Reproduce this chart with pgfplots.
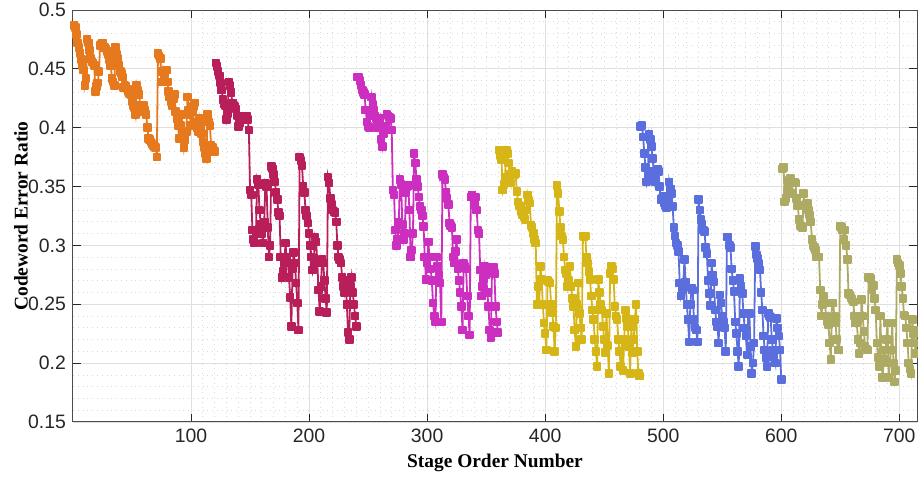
\documentclass[border=0pt]{standalone}
\usepackage{fontspec}
\setmainfont{Liberation Sans}
\newfontfamily\lblfont{Liberation Serif}
\usepackage{pgfplots}
\pgfplotsset{compat=1.18}
\definecolor{cOr}{HTML}{E6781E}
\definecolor{cCr}{HTML}{B81E5A}
\definecolor{cMa}{HTML}{CC2EC0}
\definecolor{cYe}{HTML}{D6B616}
\definecolor{cBl}{HTML}{5A6FDD}
\definecolor{cOl}{HTML}{ADAA64}
\begin{document}
\begin{tikzpicture}
\begin{axis}[
    scale only axis,
    width=422pt, height=206pt,
    xmin=0, xmax=715, ymin=0.15, ymax=0.5,
    xtick={100,200,300,400,500,600,700},
    ytick={0.15,0.2,0.25,0.3,0.35,0.4,0.45,0.5},
    minor x tick num=9, minor y tick num=4,
    grid=both,
    major grid style={gray!25, line width=0.45pt},
    minor grid style={gray!30, dotted, line width=0.4pt},
    tick align=inside, major tick length=4.2pt, minor tick length=0pt,
    axis line style={black!70, line width=0.5pt},
    tick style={black!85, line width=0.5pt},
    ticklabel style={font=\fontsize{9.7}{11}\selectfont, text=black!85},
    /pgf/number format/assume math mode=true,
    xlabel={Stage Order Number}, ylabel={Codeword Error Ratio},
    label style={font=\lblfont\bfseries\fontsize{9.7}{11}\selectfont},
    xlabel style={at={(axis description cs:0.5,-0.0995)}, anchor=center},
    ylabel style={at={(axis description cs:-0.0616,0.5)}, anchor=center},
    every axis plot/.append style={line width=0.9pt, mark=square*, mark size=1.7pt,
        mark options={line join=round}},
]
% segment 1
\addplot[cOr] coordinates {(1,0.487)(2,0.485)(3,0.479)(4,0.472)(5,0.468)(6,0.463)(7,0.458)(8,0.453)(9,0.449)(10,0.436)(11,0.442)(12,0.475)(13,0.472)(14,0.466)(15,0.459)(16,0.456)(17,0.455)(18,0.453)(19,0.431)(20,0.435)(21,0.438)(22,0.448)(23,0.470)(24,0.471)(25,0.472)(26,0.468)(27,0.468)(28,0.467)(29,0.465)(30,0.462)(31,0.458)(32,0.453)(33,0.442)(34,0.439)(35,0.436)(36,0.468)(37,0.462)(38,0.459)(39,0.453)(40,0.448)(41,0.446)(42,0.443)(43,0.434)(44,0.436)(45,0.435)(46,0.433)(47,0.431)(48,0.429)(49,0.428)(50,0.422)(51,0.419)(52,0.417)(53,0.411)(54,0.436)(55,0.432)(56,0.428)(57,0.419)(58,0.416)(59,0.414)(60,0.419)(61,0.415)(62,0.411)(63,0.400)(64,0.391)(65,0.390)(66,0.388)(67,0.386)(68,0.385)(69,0.384)(70,0.383)(71,0.375)(72,0.463)(73,0.461)(74,0.459)(75,0.439)(76,0.448)(77,0.442)(78,0.446)(79,0.449)(80,0.439)(81,0.431)(82,0.426)(83,0.422)(84,0.419)(85,0.425)(86,0.428)(87,0.414)(88,0.408)(89,0.402)(90,0.391)(91,0.402)(92,0.411)(93,0.395)(94,0.383)(95,0.390)(96,0.397)(97,0.426)(98,0.415)(99,0.411)(100,0.402)(101,0.414)(102,0.418)(103,0.421)(104,0.405)(105,0.400)(106,0.397)(107,0.408)(108,0.402)(109,0.395)(110,0.388)(111,0.383)(112,0.378)(113,0.374)(114,0.411)(115,0.405)(116,0.402)(117,0.385)(118,0.383)(119,0.381)(120,0.380)};
% segment 2
\addplot[cCr] coordinates {(121,0.455)(122,0.452)(123,0.448)(124,0.444)(125,0.438)(126,0.432)(127,0.424)(128,0.420)(129,0.419)(130,0.407)(131,0.412)(132,0.439)(133,0.436)(134,0.430)(135,0.421)(136,0.419)(137,0.418)(138,0.416)(139,0.410)(140,0.401)(141,0.404)(142,0.409)(143,0.408)(144,0.410)(145,0.410)(146,0.409)(147,0.410)(148,0.407)(149,0.398)(150,0.347)(151,0.343)(152,0.313)(153,0.305)(154,0.302)(155,0.310)(156,0.356)(157,0.352)(158,0.330)(159,0.318)(160,0.310)(161,0.302)(162,0.320)(163,0.353)(164,0.350)(165,0.315)(166,0.290)(167,0.300)(168,0.367)(169,0.365)(170,0.360)(171,0.354)(172,0.345)(173,0.339)(174,0.328)(175,0.325)(176,0.290)(177,0.273)(178,0.278)(179,0.285)(180,0.302)(181,0.290)(182,0.285)(183,0.273)(184,0.256)(185,0.231)(186,0.280)(187,0.294)(188,0.285)(189,0.268)(190,0.251)(191,0.228)(192,0.375)(193,0.372)(194,0.368)(195,0.350)(196,0.345)(197,0.330)(198,0.325)(199,0.319)(200,0.310)(201,0.300)(202,0.290)(203,0.279)(204,0.285)(205,0.307)(206,0.303)(207,0.285)(208,0.262)(209,0.244)(210,0.265)(211,0.288)(212,0.285)(213,0.270)(214,0.255)(215,0.243)(216,0.358)(217,0.353)(218,0.340)(219,0.335)(220,0.330)(221,0.329)(222,0.328)(223,0.320)(224,0.300)(225,0.290)(226,0.288)(227,0.285)(228,0.273)(229,0.265)(230,0.260)(231,0.270)(232,0.250)(233,0.226)(234,0.220)(235,0.265)(236,0.273)(237,0.260)(238,0.250)(239,0.240)(240,0.231)};
% segment 3
\addplot[cMa] coordinates {(241,0.443)(242,0.443)(243,0.440)(244,0.436)(245,0.432)(246,0.430)(247,0.428)(248,0.415)(249,0.405)(250,0.401)(251,0.400)(252,0.410)(253,0.426)(254,0.420)(255,0.415)(256,0.410)(257,0.408)(258,0.400)(259,0.404)(260,0.408)(261,0.390)(262,0.384)(263,0.395)(264,0.400)(265,0.401)(266,0.411)(267,0.410)(268,0.409)(269,0.408)(270,0.398)(271,0.347)(272,0.343)(273,0.313)(274,0.300)(275,0.305)(276,0.320)(277,0.356)(278,0.352)(279,0.318)(280,0.305)(281,0.310)(282,0.345)(283,0.350)(284,0.351)(285,0.330)(286,0.290)(287,0.296)(288,0.310)(289,0.378)(290,0.370)(291,0.356)(292,0.350)(293,0.341)(294,0.333)(295,0.330)(296,0.325)(297,0.316)(298,0.290)(299,0.271)(300,0.285)(301,0.303)(302,0.290)(303,0.280)(304,0.270)(305,0.251)(306,0.240)(307,0.235)(308,0.290)(309,0.282)(310,0.275)(311,0.268)(312,0.235)(313,0.360)(314,0.358)(315,0.356)(316,0.345)(317,0.340)(318,0.335)(319,0.319)(320,0.317)(321,0.315)(322,0.290)(323,0.285)(324,0.295)(325,0.305)(326,0.280)(327,0.270)(328,0.260)(329,0.248)(330,0.228)(331,0.285)(332,0.282)(333,0.280)(334,0.257)(335,0.240)(336,0.224)(337,0.341)(338,0.343)(339,0.341)(340,0.335)(341,0.341)(342,0.330)(343,0.313)(344,0.310)(345,0.279)(346,0.257)(347,0.265)(348,0.272)(349,0.282)(350,0.275)(351,0.260)(352,0.248)(353,0.228)(354,0.222)(355,0.281)(356,0.281)(357,0.276)(358,0.248)(359,0.235)(360,0.226)};
% segment 4
\addplot[cYe] coordinates {(361,0.381)(362,0.376)(363,0.373)(364,0.347)(365,0.352)(366,0.358)(367,0.381)(368,0.378)(369,0.370)(370,0.360)(371,0.353)(372,0.363)(373,0.361)(374,0.360)(375,0.361)(376,0.346)(377,0.337)(378,0.334)(379,0.333)(380,0.329)(381,0.326)(382,0.324)(383,0.322)(384,0.330)(385,0.343)(386,0.338)(387,0.336)(388,0.317)(389,0.315)(390,0.310)(391,0.305)(392,0.302)(393,0.250)(394,0.265)(395,0.250)(396,0.282)(397,0.271)(398,0.250)(399,0.234)(400,0.225)(401,0.211)(402,0.270)(403,0.269)(404,0.268)(405,0.250)(406,0.243)(407,0.231)(408,0.210)(409,0.230)(410,0.351)(411,0.344)(412,0.329)(413,0.315)(414,0.308)(415,0.305)(416,0.290)(417,0.279)(418,0.276)(419,0.265)(420,0.270)(421,0.282)(422,0.265)(423,0.255)(424,0.248)(425,0.228)(426,0.214)(427,0.250)(428,0.268)(429,0.242)(430,0.230)(431,0.220)(432,0.308)(433,0.307)(434,0.308)(435,0.290)(436,0.285)(437,0.278)(438,0.271)(439,0.257)(440,0.245)(441,0.237)(442,0.220)(443,0.210)(444,0.197)(445,0.271)(446,0.260)(447,0.250)(448,0.245)(449,0.231)(450,0.220)(451,0.209)(452,0.242)(453,0.215)(454,0.191)(455,0.276)(456,0.282)(457,0.280)(458,0.271)(459,0.248)(460,0.240)(461,0.237)(462,0.220)(463,0.210)(464,0.197)(465,0.220)(466,0.194)(467,0.220)(468,0.245)(469,0.238)(470,0.231)(471,0.214)(472,0.191)(473,0.231)(474,0.209)(475,0.220)(476,0.237)(477,0.250)(478,0.210)(479,0.191)(480,0.189)};
% segment 5
\addplot[cBl] coordinates {(481,0.401)(482,0.402)(483,0.392)(484,0.378)(485,0.366)(486,0.354)(487,0.360)(488,0.394)(489,0.390)(490,0.384)(491,0.374)(492,0.363)(493,0.354)(494,0.360)(495,0.365)(496,0.363)(497,0.350)(498,0.339)(499,0.340)(500,0.342)(501,0.336)(502,0.334)(503,0.332)(504,0.339)(505,0.354)(506,0.348)(507,0.344)(508,0.333)(509,0.315)(510,0.308)(511,0.302)(512,0.300)(513,0.295)(514,0.268)(515,0.257)(516,0.262)(517,0.268)(518,0.288)(519,0.269)(520,0.250)(521,0.237)(522,0.218)(523,0.250)(524,0.264)(525,0.262)(526,0.237)(527,0.230)(528,0.228)(529,0.218)(530,0.339)(531,0.330)(532,0.322)(533,0.318)(534,0.313)(535,0.312)(536,0.298)(537,0.293)(538,0.270)(539,0.259)(540,0.249)(541,0.285)(542,0.275)(543,0.269)(544,0.245)(545,0.235)(546,0.231)(547,0.217)(548,0.258)(549,0.251)(550,0.240)(551,0.235)(552,0.230)(553,0.210)(554,0.307)(555,0.307)(556,0.300)(557,0.298)(558,0.280)(559,0.270)(560,0.261)(561,0.235)(562,0.225)(563,0.210)(564,0.197)(565,0.272)(566,0.265)(567,0.259)(568,0.242)(569,0.230)(570,0.223)(571,0.207)(572,0.242)(573,0.242)(574,0.214)(575,0.191)(576,0.200)(577,0.217)(578,0.299)(579,0.292)(580,0.289)(581,0.285)(582,0.279)(583,0.260)(584,0.245)(585,0.223)(586,0.211)(587,0.205)(588,0.197)(589,0.242)(590,0.240)(591,0.239)(592,0.220)(593,0.211)(594,0.205)(595,0.200)(596,0.238)(597,0.230)(598,0.223)(599,0.211)(600,0.186)};
% segment 6
\addplot[cOl] coordinates {(601,0.365)(602,0.366)(603,0.337)(604,0.340)(605,0.346)(606,0.353)(607,0.355)(608,0.357)(609,0.344)(610,0.354)(611,0.354)(612,0.353)(613,0.340)(614,0.334)(615,0.322)(616,0.317)(617,0.316)(618,0.315)(619,0.344)(620,0.334)(621,0.335)(622,0.336)(623,0.330)(624,0.326)(625,0.320)(626,0.305)(627,0.300)(628,0.298)(629,0.296)(630,0.290)(631,0.290)(632,0.290)(633,0.262)(634,0.240)(635,0.250)(636,0.257)(637,0.251)(638,0.240)(639,0.235)(640,0.233)(641,0.217)(642,0.203)(643,0.251)(644,0.251)(645,0.240)(646,0.234)(647,0.220)(648,0.211)(649,0.211)(650,0.316)(651,0.315)(652,0.313)(653,0.305)(654,0.313)(655,0.300)(656,0.288)(657,0.259)(658,0.258)(659,0.256)(660,0.254)(661,0.252)(662,0.240)(663,0.234)(664,0.234)(665,0.220)(666,0.208)(667,0.217)(668,0.254)(669,0.240)(670,0.227)(671,0.214)(672,0.212)(673,0.211)(674,0.273)(675,0.273)(676,0.272)(677,0.262)(678,0.266)(679,0.255)(680,0.245)(681,0.217)(682,0.205)(683,0.197)(684,0.240)(685,0.200)(686,0.188)(687,0.211)(688,0.203)(689,0.220)(690,0.234)(691,0.188)(692,0.200)(693,0.211)(694,0.234)(695,0.200)(696,0.184)(697,0.194)(698,0.288)(699,0.285)(700,0.283)(701,0.276)(702,0.265)(703,0.255)(704,0.241)(705,0.240)(706,0.230)(707,0.217)(708,0.200)(709,0.195)(710,0.191)(711,0.237)(712,0.225)(713,0.217)(714,0.208)(715,0.228)(716,0.220)};
\end{axis}
\pgfresetboundingbox
\path[use as bounding box] ([shift={(-36.5pt,-27.5pt)}]current axis.south west) rectangle ([shift={(0.5pt,5pt)}]current axis.north east);
\end{tikzpicture}
\end{document}
